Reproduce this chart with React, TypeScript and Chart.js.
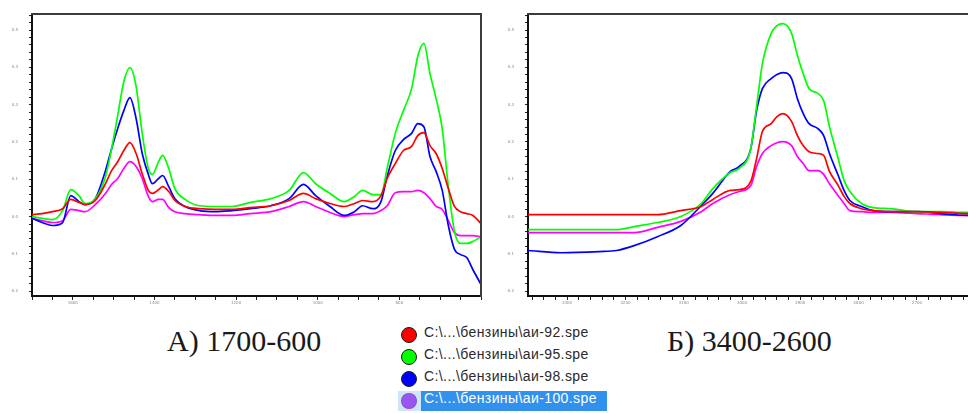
import React, { useEffect, useRef } from "react";
import { Chart, registerables } from "chart.js";

Chart.register(...registerables);

// ---------- Data ----------
const seriesNames = [
  "C:\\...\\бензины\\аи-92.spe",
  "C:\\...\\бензины\\аи-95.spe",
  "C:\\...\\бензины\\аи-98.spe",
  "C:\\...\\бензины\\аи-100.spe",
];
const seriesColors = ["#ff0000", "#00ff00", "#0000ff", "#ff00ff"];
const legendMarkerColors = ["#ff0000", "#00ff00", "#0000ff", "#9a55f0"];

const captionLeft = "А) 1700-600";
const captionRight = "Б) 3400-2600";

// Left panel: wavenumber, cm-1
const leftWavenumbers = [
  1700, 1675, 1650, 1625, 1605, 1585, 1570, 1545, 1520, 1505, 1490, 1475, 1460, 1445, 1430,
  1415, 1405, 1390, 1380, 1365, 1350, 1325, 1290, 1250, 1210, 1165, 1115, 1070, 1035, 1005,
  970, 935, 910, 890, 865, 845, 830, 810, 790, 770, 755, 740, 725, 710, 695, 680, 665, 650,
  635, 620, 600,
];
const leftAi92 = [
  0.005, 0.008, 0.013, 0.021, 0.046, 0.038, 0.032, 0.043, 0.088, 0.123, 0.147, 0.177, 0.198,
  0.169, 0.115, 0.07, 0.062, 0.072, 0.08, 0.067, 0.043, 0.027, 0.021, 0.019, 0.019, 0.024,
  0.029, 0.043, 0.062, 0.048, 0.035, 0.027, 0.035, 0.043, 0.04, 0.056, 0.102, 0.142, 0.177,
  0.188, 0.217, 0.225, 0.19, 0.169, 0.129, 0.075, 0.027, 0.013, 0.008, 0.003, -0.019,
];
const leftAi95 = [
  0.0, -0.005, -0.008, 0.016, 0.072, 0.056, 0.035, 0.048, 0.107, 0.182, 0.271, 0.362, 0.399,
  0.349, 0.223, 0.129, 0.113, 0.147, 0.164, 0.129, 0.075, 0.046, 0.029, 0.027, 0.027, 0.038,
  0.048, 0.07, 0.118, 0.088, 0.062, 0.04, 0.054, 0.07, 0.059, 0.059, 0.129, 0.223, 0.284,
  0.343, 0.429, 0.464, 0.383, 0.316, 0.236, 0.08, -0.04, -0.072, -0.072, -0.067, -0.054,
];
const leftAi98 = [
  -0.005, -0.016, -0.024, -0.016, 0.056, 0.04, 0.032, 0.048, 0.123, 0.182, 0.236, 0.284, 0.319,
  0.263, 0.169, 0.113, 0.088, 0.102, 0.11, 0.08, 0.048, 0.027, 0.016, 0.013, 0.016, 0.021,
  0.029, 0.048, 0.086, 0.056, 0.027, 0.003, 0.013, 0.029, 0.021, 0.04, 0.107, 0.177, 0.206,
  0.223, 0.249, 0.241, 0.161, 0.121, 0.07, -0.024, -0.088, -0.102, -0.11, -0.142, -0.182,
];
const leftAi100 = [
  -0.005, -0.011, -0.016, -0.011, 0.019, 0.016, 0.013, 0.032, 0.062, 0.086, 0.102, 0.129, 0.147,
  0.134, 0.102, 0.054, 0.04, 0.046, 0.046, 0.024, 0.013, 0.008, 0.005, 0.003, 0.003, 0.008,
  0.013, 0.027, 0.04, 0.027, 0.011, 0.0, 0.005, 0.008, 0.008, 0.016, 0.029, 0.064, 0.067,
  0.067, 0.07, 0.064, 0.048, 0.027, 0.019, -0.011, -0.043, -0.051, -0.051, -0.051, -0.054,
];

// Right panel: wavenumber, cm-1
const rightWavenumbers = [
  3367, 3310, 3245, 3215, 3185, 3145, 3105, 3070, 3050, 3020, 3005, 2985, 2975, 2965, 2950,
  2940, 2930, 2915, 2905, 2895, 2885, 2870, 2860, 2850, 2835, 2825, 2815, 2795, 2775, 2745,
  2700, 2660, 2612, 2597,
];
const rightAi92 = [
  0.005, 0.005, 0.005, 0.005, 0.005, 0.005, 0.016, 0.027, 0.046, 0.07, 0.072, 0.094, 0.155,
  0.228, 0.249, 0.268, 0.276, 0.255, 0.217, 0.19, 0.174, 0.169, 0.164, 0.121, 0.083, 0.054,
  0.035, 0.021, 0.016, 0.013, 0.013, 0.011, 0.008, 0.008,
];
const rightAi95 = [
  -0.035, -0.035, -0.035, -0.035, -0.027, -0.016, 0.0, 0.035, 0.075, 0.118, 0.129, 0.182, 0.295,
  0.41, 0.491, 0.512, 0.517, 0.491, 0.432, 0.383, 0.343, 0.33, 0.311, 0.241, 0.155, 0.097,
  0.067, 0.035, 0.024, 0.021, 0.013, 0.013, 0.011, 0.011,
];
const rightAi98 = [
  -0.091, -0.097, -0.094, -0.091, -0.078, -0.054, -0.024, 0.029, 0.062, 0.121, 0.134, 0.182,
  0.284, 0.343, 0.37, 0.381, 0.386, 0.37, 0.316, 0.276, 0.249, 0.236, 0.217, 0.169, 0.11, 0.07,
  0.043, 0.027, 0.016, 0.013, 0.013, 0.008, 0.003, 0.003,
];
const rightAi100 = [
  -0.043, -0.043, -0.043, -0.043, -0.043, -0.029, -0.013, 0.013, 0.035, 0.059, 0.067, 0.083,
  0.134, 0.169, 0.19, 0.198, 0.201, 0.19, 0.161, 0.142, 0.123, 0.123, 0.113, 0.088, 0.056,
  0.035, 0.016, 0.013, 0.011, 0.011, 0.008, 0.005, 0.003, 0.003,
];

const yMin = -0.213;
const yMax = 0.543;
const yMinorStep = 0.02;
const yLabelStep = 0.1;

// ---------- Chart helpers ----------
const framePlugin = {
  id: "frame",
  afterDraw(chart: any) {
    const { ctx, chartArea: a } = chart;
    ctx.save();
    ctx.strokeStyle = "#3c3c3c";
    ctx.lineWidth = 2;
    ctx.beginPath();
    ctx.moveTo(a.left - 1, a.top);
    ctx.lineTo(a.right, a.top);
    ctx.lineTo(a.right, a.bottom + 1);
    ctx.stroke();
    ctx.restore();
  },
};

function buildConfig(
  xs: number[],
  ys: number[][],
  xMin: number,
  xMax: number,
  xStep: number,
  xLabelStep: number
): any {
  return {
    type: "line",
    data: {
      datasets: ys.map((arr, i) => ({
        label: seriesNames[i],
        data: arr.map((y, k) => ({ x: xs[k], y })),
        borderColor: seriesColors[i],
        backgroundColor: seriesColors[i],
        borderWidth: 1.7,
        pointRadius: 0,
        cubicInterpolationMode: "monotone",
        fill: false,
      })),
    },
    options: {
      animation: false,
      responsive: false,
      maintainAspectRatio: false,
      layout: { padding: { top: 14, right: 9, left: 0, bottom: 0 } },
      plugins: { legend: { display: false }, tooltip: { enabled: false }, title: { display: false } },
      scales: {
        x: {
          type: "linear",
          reverse: true,
          min: xMin,
          max: xMax,
          afterFit: (s: any) => {
            s.height = 14;
          },
          border: { display: true, color: "#111", width: 2 },
          grid: { drawOnChartArea: false, drawTicks: true, tickLength: 4, color: "#222", lineWidth: 1 },
          ticks: {
            stepSize: xStep,
            includeBounds: false,
            autoSkip: false,
            maxRotation: 0,
            minRotation: 0,
            padding: 1,
            font: { size: 4, family: "DejaVu Sans" },
            color: "#888",
            callback: (v: any) =>
              Math.abs(v % xLabelStep) < 1e-6 && v > xMin + xStep / 2 && v < xMax - xStep / 2
                ? String(v)
                : "",
          },
        },
        y: {
          type: "linear",
          min: yMin,
          max: yMax,
          afterFit: (s: any) => {
            s.width = 32;
          },
          border: { display: true, color: "#111", width: 2 },
          grid: { drawOnChartArea: false, drawTicks: true, tickLength: 3, color: "#222", lineWidth: 1 },
          ticks: {
            stepSize: yMinorStep,
            includeBounds: false,
            autoSkip: false,
            padding: 11,
            font: { size: 4, family: "DejaVu Sans" },
            color: "#888",
            callback: (v: any) => {
              const r = v / yLabelStep;
              return Math.abs(r - Math.round(r)) < 1e-6 ? (Math.round(r) * yLabelStep).toFixed(1) : "";
            },
          },
        },
      },
    },
    plugins: [framePlugin],
  };
}

function ChartCanvas(props: { config: () => any; left: number; width: number; height: number }) {
  const ref = useRef<HTMLCanvasElement | null>(null);
  useEffect(() => {
    if (!ref.current) return;
    const chart = new Chart(ref.current, props.config());
    return () => chart.destroy();
  }, []);
  return (
    <canvas
      ref={ref}
      width={props.width}
      height={props.height}
      style={{ position: "absolute", left: props.left, top: 0, width: props.width, height: props.height, display: "block" }}
    />
  );
}

export default function App() {
  const leftConfig = () =>
    buildConfig(leftWavenumbers, [leftAi92, leftAi95, leftAi98, leftAi100], 600, 1700, 50, 200);
  const rightConfig = () =>
    buildConfig(rightWavenumbers, [rightAi92, rightAi95, rightAi98, rightAi100], 2597, 3367, 20, 100);

  const rowCenters = [335, 357, 379, 401];

  return (
    <div
      style={{
        position: "fixed",
        left: 0,
        top: 0,
        width: 968,
        height: 413,
        overflow: "hidden",
        background: "#fff",
      }}
    >
      <ChartCanvas config={leftConfig} left={0} width={490} height={310} />
      <ChartCanvas config={rightConfig} left={496} width={490} height={310} />

      <div
        style={{
          position: "absolute",
          left: 167,
          top: 326,
          font: "30px 'Liberation Serif', serif",
          lineHeight: "30px",
          color: "#1a1a1a",
          whiteSpace: "nowrap",
        }}
      >
        {captionLeft}
      </div>
      <div
        style={{
          position: "absolute",
          left: 667,
          top: 326,
          font: "30px 'Liberation Serif', serif",
          lineHeight: "30px",
          color: "#1a1a1a",
          whiteSpace: "nowrap",
        }}
      >
        {captionRight}
      </div>

      {/* selection highlight of last legend entry */}
      <div style={{ position: "absolute", left: 398, top: 391, width: 23, height: 20, background: "#cfe5f8" }} />
      <div style={{ position: "absolute", left: 421, top: 391, width: 186, height: 20, background: "#3391ee" }} />

      {seriesNames.map((name, i) => (
        <React.Fragment key={name}>
          <div
            style={{
              position: "absolute",
              left: 401,
              top: rowCenters[i] - 8,
              width: 14,
              height: 14,
              borderRadius: "50%",
              background: legendMarkerColors[i],
              border: i === 3 ? "1px dotted #6a4aa0" : "1px solid #1a1a1a",
            }}
          />
          <div
            style={{
              position: "absolute",
              left: 424,
              top: rowCenters[i] - 11,
              height: 22,
              lineHeight: "22px",
              font: "14px 'Liberation Sans', Arial, sans-serif",
              letterSpacing: "0.4px",
              color: i === 3 ? "#ffffff" : "#2a2a2a",
              whiteSpace: "nowrap",
            }}
          >
            {name}
          </div>
        </React.Fragment>
      ))}
    </div>
  );
}
